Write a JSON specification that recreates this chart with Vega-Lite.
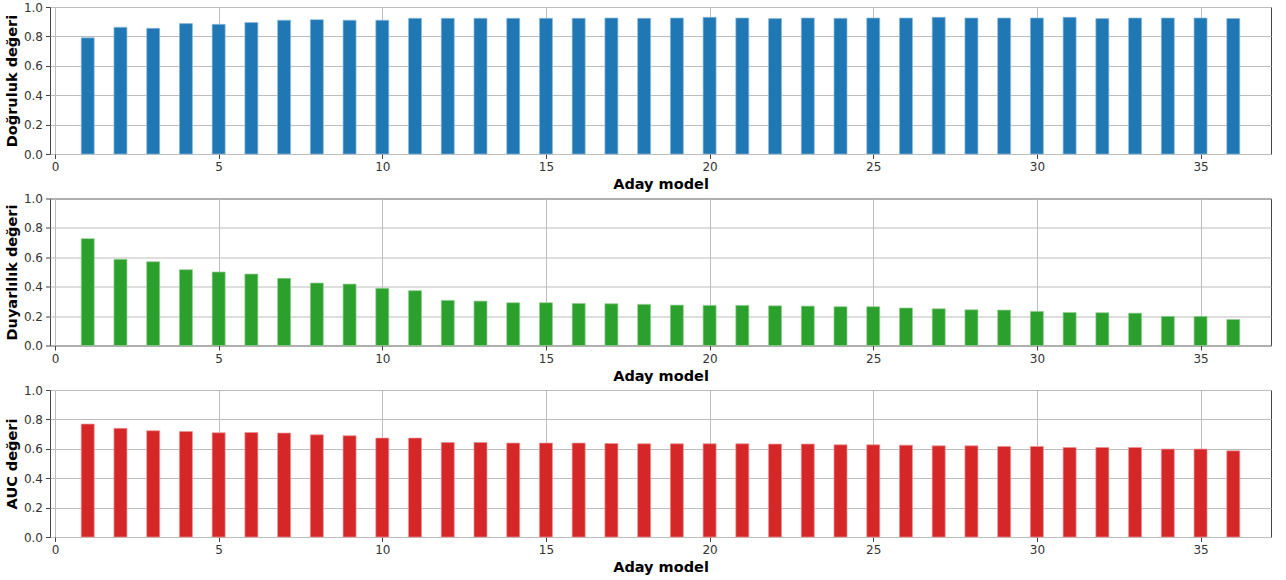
{
  "$schema": "https://vega.github.io/schema/vega-lite/v6.json",
  "padding": {"top": 0, "left": 3, "right": 8, "bottom": 0},
  "spacing": -0.5,
  "config": {
    "font": "DejaVu Sans",
    "view": {"stroke": "#444444", "strokeWidth": 1},
    "axis": {
      "labelFont": "DejaVu Sans", "labelFontSize": 12, "labelColor": "#333333",
      "titleFont": "DejaVu Sans", "titleFontSize": 14.5, "titleFontWeight": "bold", "titleColor": "#000000",
      "domain": false, "tickColor": "#444444", "tickSize": 4.5, "labelPadding": 3,
      "gridColor": "#bdbdbd", "gridWidth": 1, "zindex": 1
    }
  },
  "datasets": {
    "m": [
      {"model":1,"acc":0.790,"sens":0.727,"auc":0.768},
      {"model":2,"acc":0.862,"sens":0.586,"auc":0.739},
      {"model":3,"acc":0.855,"sens":0.570,"auc":0.723},
      {"model":4,"acc":0.887,"sens":0.516,"auc":0.718},
      {"model":5,"acc":0.882,"sens":0.500,"auc":0.709},
      {"model":6,"acc":0.894,"sens":0.486,"auc":0.711},
      {"model":7,"acc":0.910,"sens":0.457,"auc":0.707},
      {"model":8,"acc":0.914,"sens":0.425,"auc":0.695},
      {"model":9,"acc":0.910,"sens":0.418,"auc":0.689},
      {"model":10,"acc":0.910,"sens":0.389,"auc":0.673},
      {"model":11,"acc":0.923,"sens":0.373,"auc":0.673},
      {"model":12,"acc":0.923,"sens":0.307,"auc":0.643},
      {"model":13,"acc":0.923,"sens":0.302,"auc":0.643},
      {"model":14,"acc":0.923,"sens":0.291,"auc":0.639},
      {"model":15,"acc":0.923,"sens":0.291,"auc":0.639},
      {"model":16,"acc":0.923,"sens":0.286,"auc":0.639},
      {"model":17,"acc":0.925,"sens":0.284,"auc":0.636},
      {"model":18,"acc":0.923,"sens":0.280,"auc":0.634},
      {"model":19,"acc":0.925,"sens":0.275,"auc":0.634},
      {"model":20,"acc":0.930,"sens":0.273,"auc":0.634},
      {"model":21,"acc":0.925,"sens":0.273,"auc":0.634},
      {"model":22,"acc":0.921,"sens":0.270,"auc":0.632},
      {"model":23,"acc":0.925,"sens":0.268,"auc":0.632},
      {"model":24,"acc":0.923,"sens":0.264,"auc":0.627},
      {"model":25,"acc":0.925,"sens":0.264,"auc":0.627},
      {"model":26,"acc":0.925,"sens":0.255,"auc":0.625},
      {"model":27,"acc":0.930,"sens":0.250,"auc":0.620},
      {"model":28,"acc":0.925,"sens":0.243,"auc":0.620},
      {"model":29,"acc":0.925,"sens":0.241,"auc":0.616},
      {"model":30,"acc":0.925,"sens":0.232,"auc":0.616},
      {"model":31,"acc":0.930,"sens":0.225,"auc":0.609},
      {"model":32,"acc":0.921,"sens":0.223,"auc":0.609},
      {"model":33,"acc":0.925,"sens":0.220,"auc":0.609},
      {"model":34,"acc":0.925,"sens":0.198,"auc":0.598},
      {"model":35,"acc":0.925,"sens":0.198,"auc":0.598},
      {"model":36,"acc":0.922,"sens":0.177,"auc":0.586}
    ]
  },
  "vconcat": [
    {
      "width": 1221, "height": 147,
      "data": {"name": "m"},
      "mark": {"type": "bar", "width": 13, "color": "#1f77b4", "stroke": "#8fbbda", "strokeWidth": 0.7},
      "encoding": {
        "x": {"field": "model", "type": "quantitative", "title": "Aday model",
              "scale": {"domain": [0, 37], "nice": false, "zero": false},
              "axis": {"values": [0,5,10,15,20,25,30,35], "titlePadding": 5}},
        "y": {"field": "acc", "type": "quantitative", "title": "Doğruluk değeri",
              "scale": {"domain": [0, 1], "nice": false},
              "axis": {"values": [0,0.2,0.4,0.6,0.8,1.0], "format": ".1f", "titlePadding": 4}}
      }
    },
    {
      "width": 1221, "height": 147,
      "data": {"name": "m"},
      "mark": {"type": "bar", "width": 13, "color": "#2ca02c", "stroke": "#95cf95", "strokeWidth": 0.7},
      "encoding": {
        "x": {"field": "model", "type": "quantitative", "title": "Aday model",
              "scale": {"domain": [0, 37], "nice": false, "zero": false},
              "axis": {"values": [0,5,10,15,20,25,30,35], "titlePadding": 5}},
        "y": {"field": "sens", "type": "quantitative", "title": "Duyarlılık değeri",
              "scale": {"domain": [0, 1], "nice": false},
              "axis": {"values": [0,0.2,0.4,0.6,0.8,1.0], "format": ".1f", "titlePadding": 4}}
      }
    },
    {
      "width": 1221, "height": 147,
      "data": {"name": "m"},
      "mark": {"type": "bar", "width": 13, "color": "#d62728", "stroke": "#eb9394", "strokeWidth": 0.7},
      "encoding": {
        "x": {"field": "model", "type": "quantitative", "title": "Aday model",
              "scale": {"domain": [0, 37], "nice": false, "zero": false},
              "axis": {"values": [0,5,10,15,20,25,30,35], "titlePadding": 5}},
        "y": {"field": "auc", "type": "quantitative", "title": "AUC değeri",
              "scale": {"domain": [0, 1], "nice": false},
              "axis": {"values": [0,0.2,0.4,0.6,0.8,1.0], "format": ".1f", "titlePadding": 4}}
      }
    }
  ]
}
